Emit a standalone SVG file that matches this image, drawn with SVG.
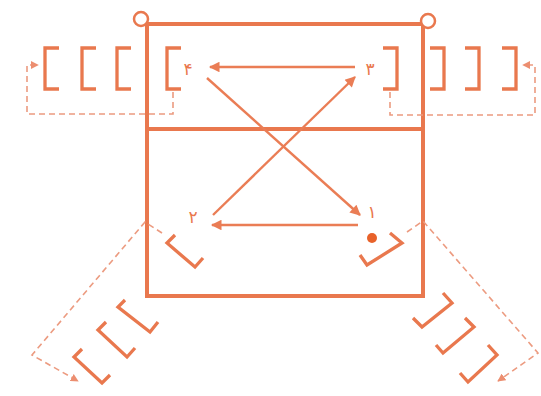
<svg xmlns="http://www.w3.org/2000/svg" width="541" height="396" viewBox="0 0 541 396">
<defs>
<style>
.frame{fill:none;stroke:#E9784E;stroke-width:4}
.br{fill:none;stroke:#E9784E;stroke-width:3.3;stroke-linejoin:miter}
.arr{fill:none;stroke:#EA7D55;stroke-width:2.4}
.dash{fill:none;stroke:#EC9B80;stroke-width:1.6;stroke-dasharray:6 4}
.lbl{font-family:"DejaVu Sans","Noto Sans",sans-serif;font-size:17px;fill:#E9784E;text-anchor:middle}
</style>
<marker id="ah" viewBox="0 0 10 10" refX="9" refY="5" markerWidth="5" markerHeight="4.4" orient="auto" markerUnits="strokeWidth">
<path d="M0,0 L10,5 L0,10 z" fill="#EA7D55"/>
</marker>
<marker id="ahs" viewBox="0 0 10 10" refX="9" refY="5" markerWidth="5" markerHeight="5" orient="auto" markerUnits="strokeWidth">
<path d="M0,0 L10,5 L0,10 z" fill="#EC8E70"/>
</marker>
</defs>
<rect width="541" height="396" fill="#ffffff"/>

<g id="frame">
<rect class="frame" x="147" y="24" width="276" height="272"/>
<line class="frame" x1="147" y1="129" x2="423" y2="129"/>
<circle cx="141" cy="19" r="7" fill="#ffffff" stroke="#E9784E" stroke-width="2.5"/>
<circle cx="428" cy="21" r="7" fill="#ffffff" stroke="#E9784E" stroke-width="2.5"/>
</g>

<g id="connectors">
<line class="arr" x1="355" y1="67" x2="210" y2="67" marker-end="url(#ah)"/>
<line class="arr" x1="213" y1="215" x2="355" y2="77" marker-end="url(#ah)"/>
<line class="arr" x1="207" y1="78" x2="360" y2="215" marker-end="url(#ah)"/>
<line class="arr" x1="358" y1="225" x2="212" y2="225" marker-end="url(#ah)"/>
<path class="dash" d="M173,92 V114 H27 V65 H38" marker-end="url(#ahs)"/>
<path class="dash" d="M390,92 V115 H535 V65 H523" marker-end="url(#ahs)"/>
<path class="dash" d="M162,233 L145,222 L32,355 L78,381" marker-end="url(#ahs)"/>
<path class="dash" d="M407,232 L423,221 L538,353 L498,381" marker-end="url(#ahs)"/>
</g>

<g id="node-4">
<path class="br" d="M181,48 H167 V89 H181"/>
<text class="lbl" x="188" y="75">۴</text>
</g>
<g id="node-3">
<path class="br" d="M383,48 H397 V89 H383"/>
<text class="lbl" x="370" y="75">۳</text>
</g>
<g id="node-2">
<path class="br" d="M175,235 L167,243 L195,267 L203,258"/>
<text class="lbl" x="193" y="223">۲</text>
</g>
<g id="node-1">
<path class="br" d="M390,233 L402,243 L367,265 L360,255"/>
<circle cx="372" cy="238" r="5" fill="#E8622A"/>
<text class="lbl" x="372" y="218">۱</text>
</g>

<g id="queue-top-left">
<path class="br" d="M59,48 H45 V89 H59"/>
<path class="br" d="M96,48 H82 V89 H96"/>
<path class="br" d="M131,48 H117 V89 H131"/>
</g>
<g id="queue-top-right">
<path class="br" d="M430,48 H444 V89 H430"/>
<path class="br" d="M465,48 H479 V89 H465"/>
<path class="br" d="M502,48 H516 V89 H502"/>
</g>
<g id="queue-bottom-left">
<path class="br" d="M125,300 L118,307 L150,332 L158,322"/>
<path class="br" d="M106,322 L98,330 L127,357 L135,348"/>
<path class="br" d="M82,349 L74,357 L102,383 L110,375"/>
</g>
<g id="queue-bottom-right">
<path class="br" d="M443,293 L452,303 L422,327 L413,318"/>
<path class="br" d="M465,318 L474,327 L443,353 L436,345"/>
<path class="br" d="M488,345 L497,355 L468,382 L460,373"/>
</g>
</svg>
